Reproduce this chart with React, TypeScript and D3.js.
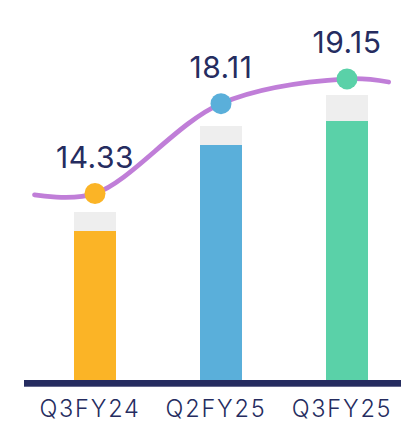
import React from "react";
import * as d3 from "d3";

const categories = ["Q3FY24", "Q2FY25", "Q3FY25"];
const lineValues = [14.33, 18.11, 19.15];
const lineLeadIn = 14.27;
const lineLeadOut = 19.02;
const barValues = [14.9, 23.5, 25.9];
const capValues = [1.9, 1.9, 2.6];
const colors = ["#FBB426", "#5AAFDA", "#5AD1A8"];

const W = 401;
const H = 422;
const NAVY = "#252C60";
const PURPLE = "#C07ED8";

export default function App() {
  const x = d3.scaleBand<string>().domain(categories).range([32, 410]).paddingInner(2 / 3).paddingOuter(1 / 3);
  const bw = x.bandwidth();
  const step = x.step();
  const cx = (c: string) => (x(c) as number) + bw / 2;
  const barY = d3.scaleLinear().domain([0, 30]).range([380, 80]);
  const lineY = d3.scaleLinear().domain([10, 20]).range([296.5, 58.7]);

  const pts: [number, number][] = [
    [cx(categories[0]) - 0.48 * step, lineY(lineLeadIn)],
    ...categories.map((c, i) => [cx(c), lineY(lineValues[i])] as [number, number]),
    [cx(categories[categories.length - 1]) + 0.33 * step, lineY(lineLeadOut)],
  ];
  const linePath = d3.line().curve(d3.curveCatmullRom.alpha(0.5))(pts) || "";
  const y0 = barY(0);

  return (
    <svg width={W} height={H} style={{ position: "absolute", left: 0, top: 0, background: "#fff" }}>
      {categories.map((c, i) => (
        <g key={c}>
          <rect x={x(c)} y={barY(barValues[i] + capValues[i])} width={bw} height={barY(barValues[i]) - barY(barValues[i] + capValues[i])} fill="#EEEEEE" />
          <rect x={x(c)} y={barY(barValues[i])} width={bw} height={y0 - barY(barValues[i])} fill={colors[i]} />
        </g>
      ))}
      <rect x={24} y={y0} width={W - 24} height={6.7} fill={NAVY} />
      <path d={linePath} fill="none" stroke={PURPLE} strokeWidth={4.8} strokeLinecap="round" />
      {categories.map((c, i) => (
        <circle key={c} cx={cx(c)} cy={lineY(lineValues[i])} r={10.5} fill={colors[i]} />
      ))}
      {categories.map((c, i) => (
        <text key={c} x={cx(c)} y={lineY(lineValues[i]) - 26} textAnchor="middle" fontFamily="Inter" fontWeight={400} fontSize={30} letterSpacing={0.5} fill={NAVY}>
          {lineValues[i].toFixed(2)}
        </text>
      ))}
      {categories.map((c) => (
        <text key={c} x={cx(c) - 5} y={417} textAnchor="middle" fontFamily="Inter" fontWeight={300} fontSize={23.5} letterSpacing={1.8} fill={NAVY}>
          {c}
        </text>
      ))}
    </svg>
  );
}
